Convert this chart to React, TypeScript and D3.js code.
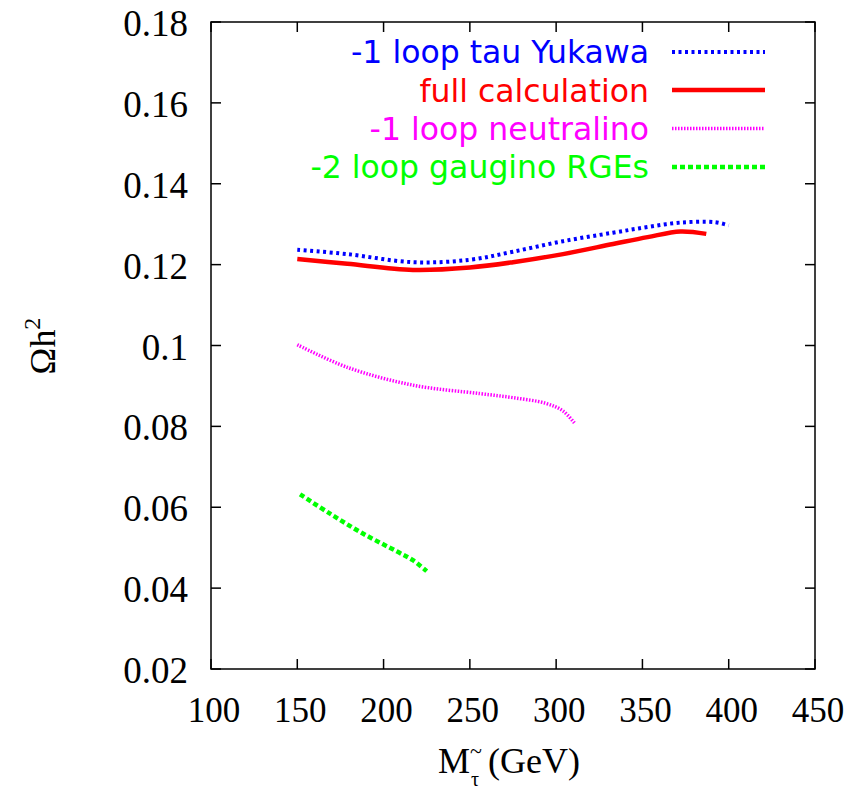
import React from "react";
import * as d3 from "d3";

const xTicks = [100, 150, 200, 250, 300, 350, 400, 450];
const yTicks = [0.02, 0.04, 0.06, 0.08, 0.1, 0.12, 0.14, 0.16, 0.18];
const yTickLabels = ["0.02", "0.04", "0.06", "0.08", "0.1", "0.12", "0.14", "0.16", "0.18"];

const blueX = [150, 179, 217, 250, 275, 304, 333, 353, 372, 392, 400];
const blueY = [0.1237, 0.1226, 0.1206, 0.1212, 0.1232, 0.1258, 0.1279, 0.1293, 0.1304, 0.1305, 0.1297];
const redX = [150, 179, 217, 250, 275, 304, 333, 353, 372, 387];
const redY = [0.1214, 0.1202, 0.1187, 0.1193, 0.1206, 0.1226, 0.1251, 0.1268, 0.1282, 0.1276];
const magX = [150, 179, 217, 256, 275, 294, 304, 311];
const magY = [0.1002, 0.0946, 0.0902, 0.0881, 0.0871, 0.0857, 0.0838, 0.0806];
const greenX = [151.6, 169, 188, 207.6, 217, 225];
const greenY = [0.0632, 0.0584, 0.0535, 0.0491, 0.0469, 0.0442];

const legendLabels = ["-1 loop tau Yukawa", "full calculation", "-1 loop neutralino", "-2 loop gaugino RGEs"];

const L = 211, R = 815, T = 22, B = 669;
const font = "Liberation Serif";
const font2 = "DejaVu Sans";

export default function App() {
  const x = d3.scaleLinear().domain([100, 450]).range([L, R]);
  const y = d3.scaleLinear().domain([0.02, 0.18]).range([B, T]);
  const line = d3.line<[number, number]>().x(d => x(d[0])).y(d => y(d[1])).curve(d3.curveCatmullRom.alpha(0.5));
  const zip = (a: number[], b: number[]) => a.map((v, i) => [v, b[i]] as [number, number]);

  const series = [
    { xs: blueX, ys: blueY, color: "#0000ff", width: 4, dash: "3,3.5" },
    { xs: redX, ys: redY, color: "#ff0000", width: 4.5, dash: "" },
    { xs: magX, ys: magY, color: "#ff00ff", width: 3.5, dash: "1.5,1.5" },
    { xs: greenX, ys: greenY, color: "#00ff00", width: 4.5, dash: "5,3" },
  ];
  const legendY = [52, 90, 128.5, 167];
  const legendBase = [63, 101.5, 140, 178];
  const tick = 10;

  return (
    <svg width={863} height={794} style={{ display: "block", position: "absolute", left: 0, top: 0 }}>
      <rect x={0} y={0} width={863} height={794} fill="white" />
      {series.map((s, i) => (
        <path key={i} d={line(zip(s.xs, s.ys)) || ""} fill="none" stroke={s.color} strokeWidth={s.width} strokeDasharray={s.dash || undefined} />
      ))}
      <rect x={L} y={T} width={R - L} height={B - T} fill="none" stroke="black" strokeWidth={1.5} />
      {xTicks.map(t => (
        <g key={"x" + t}>
          <line x1={x(t)} x2={x(t)} y1={B} y2={B - tick} stroke="black" strokeWidth={1.5} />
          <line x1={x(t)} x2={x(t)} y1={T} y2={T + tick} stroke="black" strokeWidth={1.5} />
          <text x={x(t) + 3} y={722} fontFamily={font} fontSize={35} textAnchor="middle">{t}</text>
        </g>
      ))}
      {yTicks.map((t, i) => (
        <g key={"y" + t}>
          <line x1={L} x2={L + tick} y1={y(t)} y2={y(t)} stroke="black" strokeWidth={1.5} />
          <line x1={R} x2={R - tick} y1={y(t)} y2={y(t)} stroke="black" strokeWidth={1.5} />
          <text x={188} y={y(t) + 14} fontFamily={font} fontSize={37} textAnchor="end">{yTickLabels[i]}</text>
        </g>
      ))}
      {legendLabels.map((lab, i) => (
        <g key={lab}>
          <text x={649} y={legendBase[i]} fontFamily={font2} fontSize={31.5} textAnchor="end" fill={series[i].color}>{lab}</text>
          <line x1={672} x2={765} y1={legendY[i]} y2={legendY[i]} stroke={series[i].color} strokeWidth={series[i].width} strokeDasharray={series[i].dash || undefined} />
        </g>
      ))}
      <g fontFamily={font} fontSize={36}>
        <text x={438} y={773}>M</text>
        <text x={470} y={758} fontSize={22}>~</text>
        <text x={471} y={786} fontSize={20}>τ</text>
        <text x={488} y={773}>(GeV)</text>
      </g>
      <text transform="translate(55,346) rotate(-90)" fontFamily={font} fontSize={36} textAnchor="middle">Ωh<tspan fontSize={24} dy={-15}>2</tspan></text>
    </svg>
  );
}
